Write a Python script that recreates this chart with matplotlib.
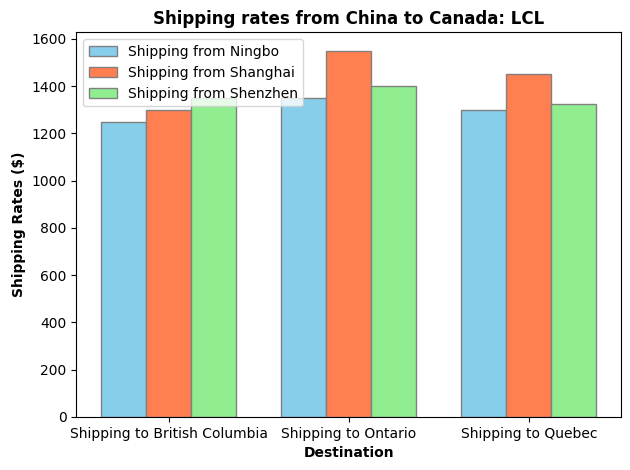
import numpy as np
import matplotlib.pyplot as plt

destinations = ["Shipping to British Columbia", "Shipping to Ontario", "Shipping to Quebec"]
ningbo = [1250, 1350, 1300]
shanghai = [1300, 1550, 1450]
shenzhen = [1350, 1400, 1325]

x = np.arange(len(destinations))
w = 0.25

fig, ax = plt.subplots(figsize=(6.3, 4.7), dpi=100)
ax.bar(x - w, ningbo, w, color="skyblue", edgecolor="grey", label="Shipping from Ningbo")
ax.bar(x, shanghai, w, color="coral", edgecolor="grey", label="Shipping from Shanghai")
ax.bar(x + w, shenzhen, w, color="lightgreen", edgecolor="grey", label="Shipping from Shenzhen")

ax.set_xticks(x)
ax.set_xticklabels(destinations)
ax.set_xlabel("Destination", fontweight="bold")
ax.set_ylabel("Shipping Rates ($)", fontweight="bold")
ax.set_title("Shipping rates from China to Canada: LCL", fontweight="bold")
ax.legend(loc="upper left")

fig.subplots_adjust(left=0.121, right=0.986, top=0.931, bottom=0.113)
plt.savefig("out.png")
